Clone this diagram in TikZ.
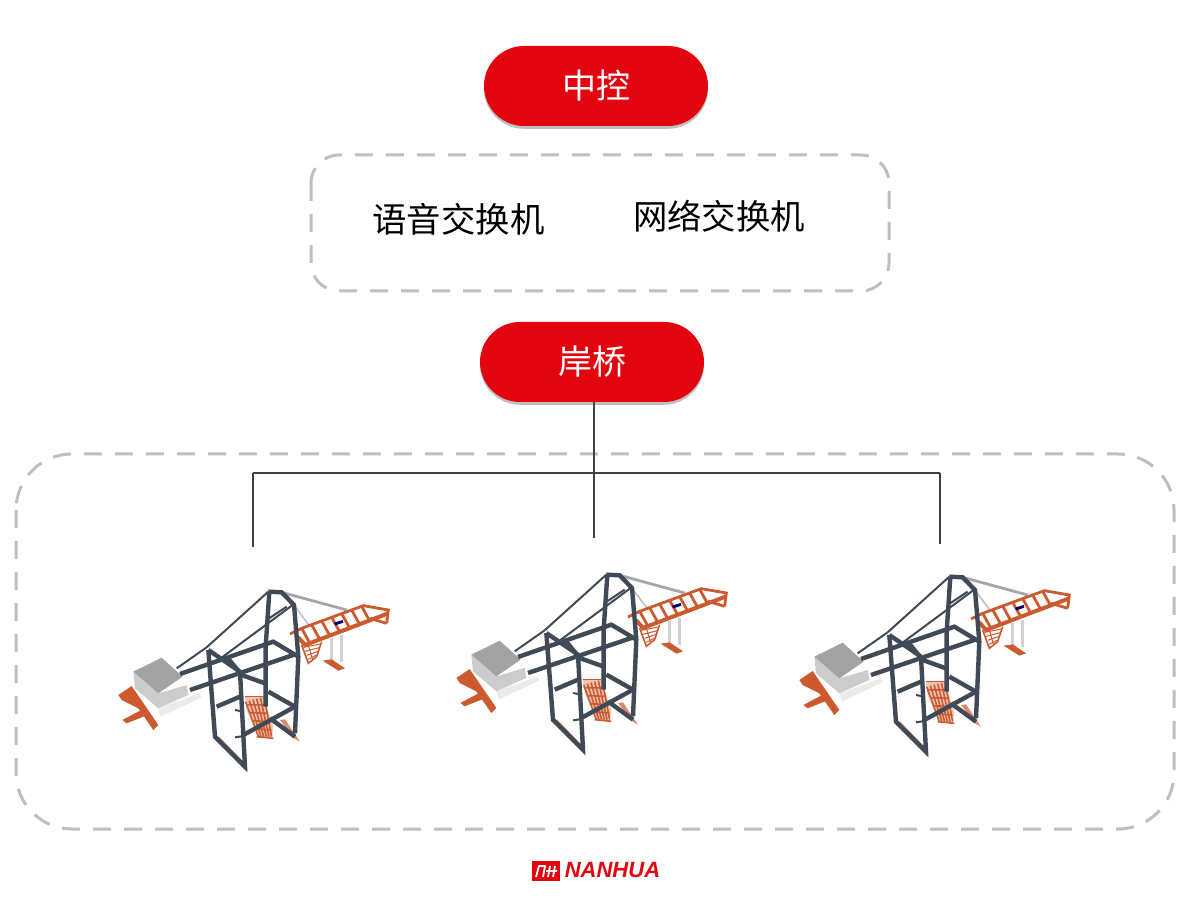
\documentclass[tikz,border=0pt]{standalone}
\usepackage{fontspec}
\usepackage{tikz}
\setmainfont{Liberation Sans}
\newfontfamily\cjk{Noto Sans CJK SC}
\usetikzlibrary{shadows,shapes.misc}
\definecolor{hubred}{HTML}{E2050F}
\definecolor{dashgray}{HTML}{BFBFBF}
\definecolor{linegray}{HTML}{404040}
\definecolor{steel}{HTML}{3F4A56}
\definecolor{rust}{HTML}{CC5A2E}
\tikzset{
	hub/.style={rounded rectangle, fill=hubred, text=white, minimum width=112pt, minimum height=40pt,
		font=\cjk\fontsize{17}{20}\selectfont, inner sep=0pt,
		drop shadow={shadow xshift=0pt, shadow yshift=-1.4pt, fill=black, opacity=0.25}},
	device/.style={font=\cjk\fontsize{17.2}{20}\selectfont, inner sep=0pt},
	group/.style={draw=dashgray, line width=1.5pt, dash pattern=on 9pt off 6.5pt},
	wire/.style={draw=linegray, line width=1pt},
	beam/.style={draw=steel, line width=2.2pt},
	thin beam/.style={draw=steel, line width=1pt},
	rung/.style={draw=rust, line width=1.4pt},
	net/.style={draw=rust, line width=0.5pt},
	crane/.pic={
		\begin{scope}[scale=1/3]
			\fill[rust] (85,405) -- (125,378) -- (205,495) -- (190,510) -- (145,445) -- (95,420) -- cycle;
			\fill[rust] (97,480) -- (150,452) -- (165,468) -- (110,490) -- cycle;
			\fill[black!8] (205,445) -- (330,400) -- (335,412) -- (212,470) -- cycle;
			\fill[black!20] (130,335) -- (205,400) -- (290,375) -- (295,405) -- (205,445) -- (135,385) -- cycle;
			\fill[black!36] (130,335) -- (215,293) -- (278,350) -- (205,400) -- cycle;
			\draw[black!35, line width=1.4pt] (575,97) -- (770,150);
			\draw[black!25, line width=0.8pt] (612,135) -- (660,200);
			\draw[rung] (600,222) -- (635,205) -- (820,137) -- (895,150) -- (890,190);
			\draw[rung, line width=2pt] (625,232) -- (645,255) -- (895,160);
			\draw[rung] (840,175) -- (890,190);
			\foreach \i in {0,1,...,6}
				\draw[rung] ({635+\i*30},{205-\i*11}) -- ({660+\i*30},{250-\i*11});
			\fill[black!60!blue] (732,188) -- (758,180) -- (760,188) -- (736,196) -- cycle;
			\draw[net, line width=0.8pt] (635,255) -- (655,310) -- (680,290) -- (695,245);
			\foreach \i in {0,1,2,3}
				\draw[net] ({640+\i*5},{262+\i*12}) -- ({692-\i*4},{252+\i*11});
			\draw[net] (655,255) -- (668,300);
			\draw[black!18, line width=1.2pt] (725,235) -- (725,300);
			\draw[black!18, line width=1.2pt] (755,225) -- (755,305);
			\fill[rust] (698,302) -- (725,298) -- (765,325) -- (745,332) -- cycle;
			\fill[rust!35] (465,410) -- (520,410) -- (550,500) -- (545,535) -- (505,530) -- (470,450) -- cycle;
			\foreach \i in {0,1,...,5} {
				\draw[net, line width=0.8pt] ({465+\i*7},{410+\i*24}) -- ({520+\i*6},{410+\i*25});
				\draw[net, line width=0.8pt] ({467+\i*11},{425-\i*3}) -- ({505+\i*8},530);
			}
			\fill[rust!70] (375,532) -- (388,530) -- (470,615) -- (468,632) -- cycle;
			\fill[rust!70] (570,480) -- (585,478) -- (630,545) -- (612,535) -- cycle;
			\draw[thin beam] (535,95) -- (350,262);
			\draw[thin beam] (260,325) -- (350,262);
			\draw[thin beam] (608,135) -- (392,295);
			\draw[thin beam] (590,140) -- (530,180);
			\draw[beam] (538,95) -- (527,260) -- (527,440);
			\draw[beam] (535,95) -- (575,97) -- (612,135) -- (625,290) -- (615,520);
			\draw[beam] (270,342) -- (550,245) -- (625,290);
			\draw[beam] (300,390) -- (610,285);
			\draw[beam] (355,270) -- (450,335);
			\draw[beam] (410,290) -- (455,345);
			\draw[beam] (355,270) -- (375,530) -- (465,620) -- (450,335);
			\draw[beam] (380,440) -- (450,410);
			\draw[beam] (460,525) -- (615,440);
			\draw[beam] (535,395) -- (615,440);
			\draw[beam] (455,345) -- (525,370);
			\draw[beam] (540,475) -- (615,530);
			\draw[thin beam] (435,532) -- (462,528);
			\draw[thin beam] (435,450) -- (460,455);
		\end{scope}
	}
}
\begin{document}
\begin{tikzpicture}[x=0.5pt, y=-0.5pt]
	\useasboundingbox (0,0) rectangle (1200,898);
	\draw[group, rounded corners=14pt] (311,155) rectangle (889,291);
	\draw[group, rounded corners=28pt] (16,454) rectangle (1174,829);
	\node[hub] (control) at (596,86) {中控};
	\node[device] (voice) at (458.5,219) {语音交换机};
	\node[device] (network) at (719,216) {网络交换机};
	\node[hub] (bridge) at (592,362) {岸桥};
	\coordinate (busleft) at (253,473);
	\coordinate (busright) at (940,473);
	\coordinate (craneleft) at (253,547);
	\coordinate (cranemid) at (593.5,538);
	\coordinate (craneright) at (940,544);
	\draw[wire] (busleft) -- (busright);
	\draw[wire] (busleft) -- (craneleft);
	\draw[wire] (bridge.south -| cranemid) -- (cranemid);
	\draw[wire] (busright) -- (craneright);
	\foreach \i/\j in {90/560,428/543,771/545}
		\pic at (\i,\j) {crane};
	\fill[hubred] (532,861) rectangle (560,881);
	\draw[white, line width=0.9pt, line join=round] (536,877) -- (539,866) -- (545,866) -- (543,877) (546,871) -- (557,871) (550,866) -- (548,877) (555,866) -- (553,877);
	\node[inner sep=0pt, text=hubred, font=\fontsize{11}{12}\selectfont\bfseries\itshape] (logo) at (612.5,870.5) {NANHUA};
\end{tikzpicture}
\end{document}
